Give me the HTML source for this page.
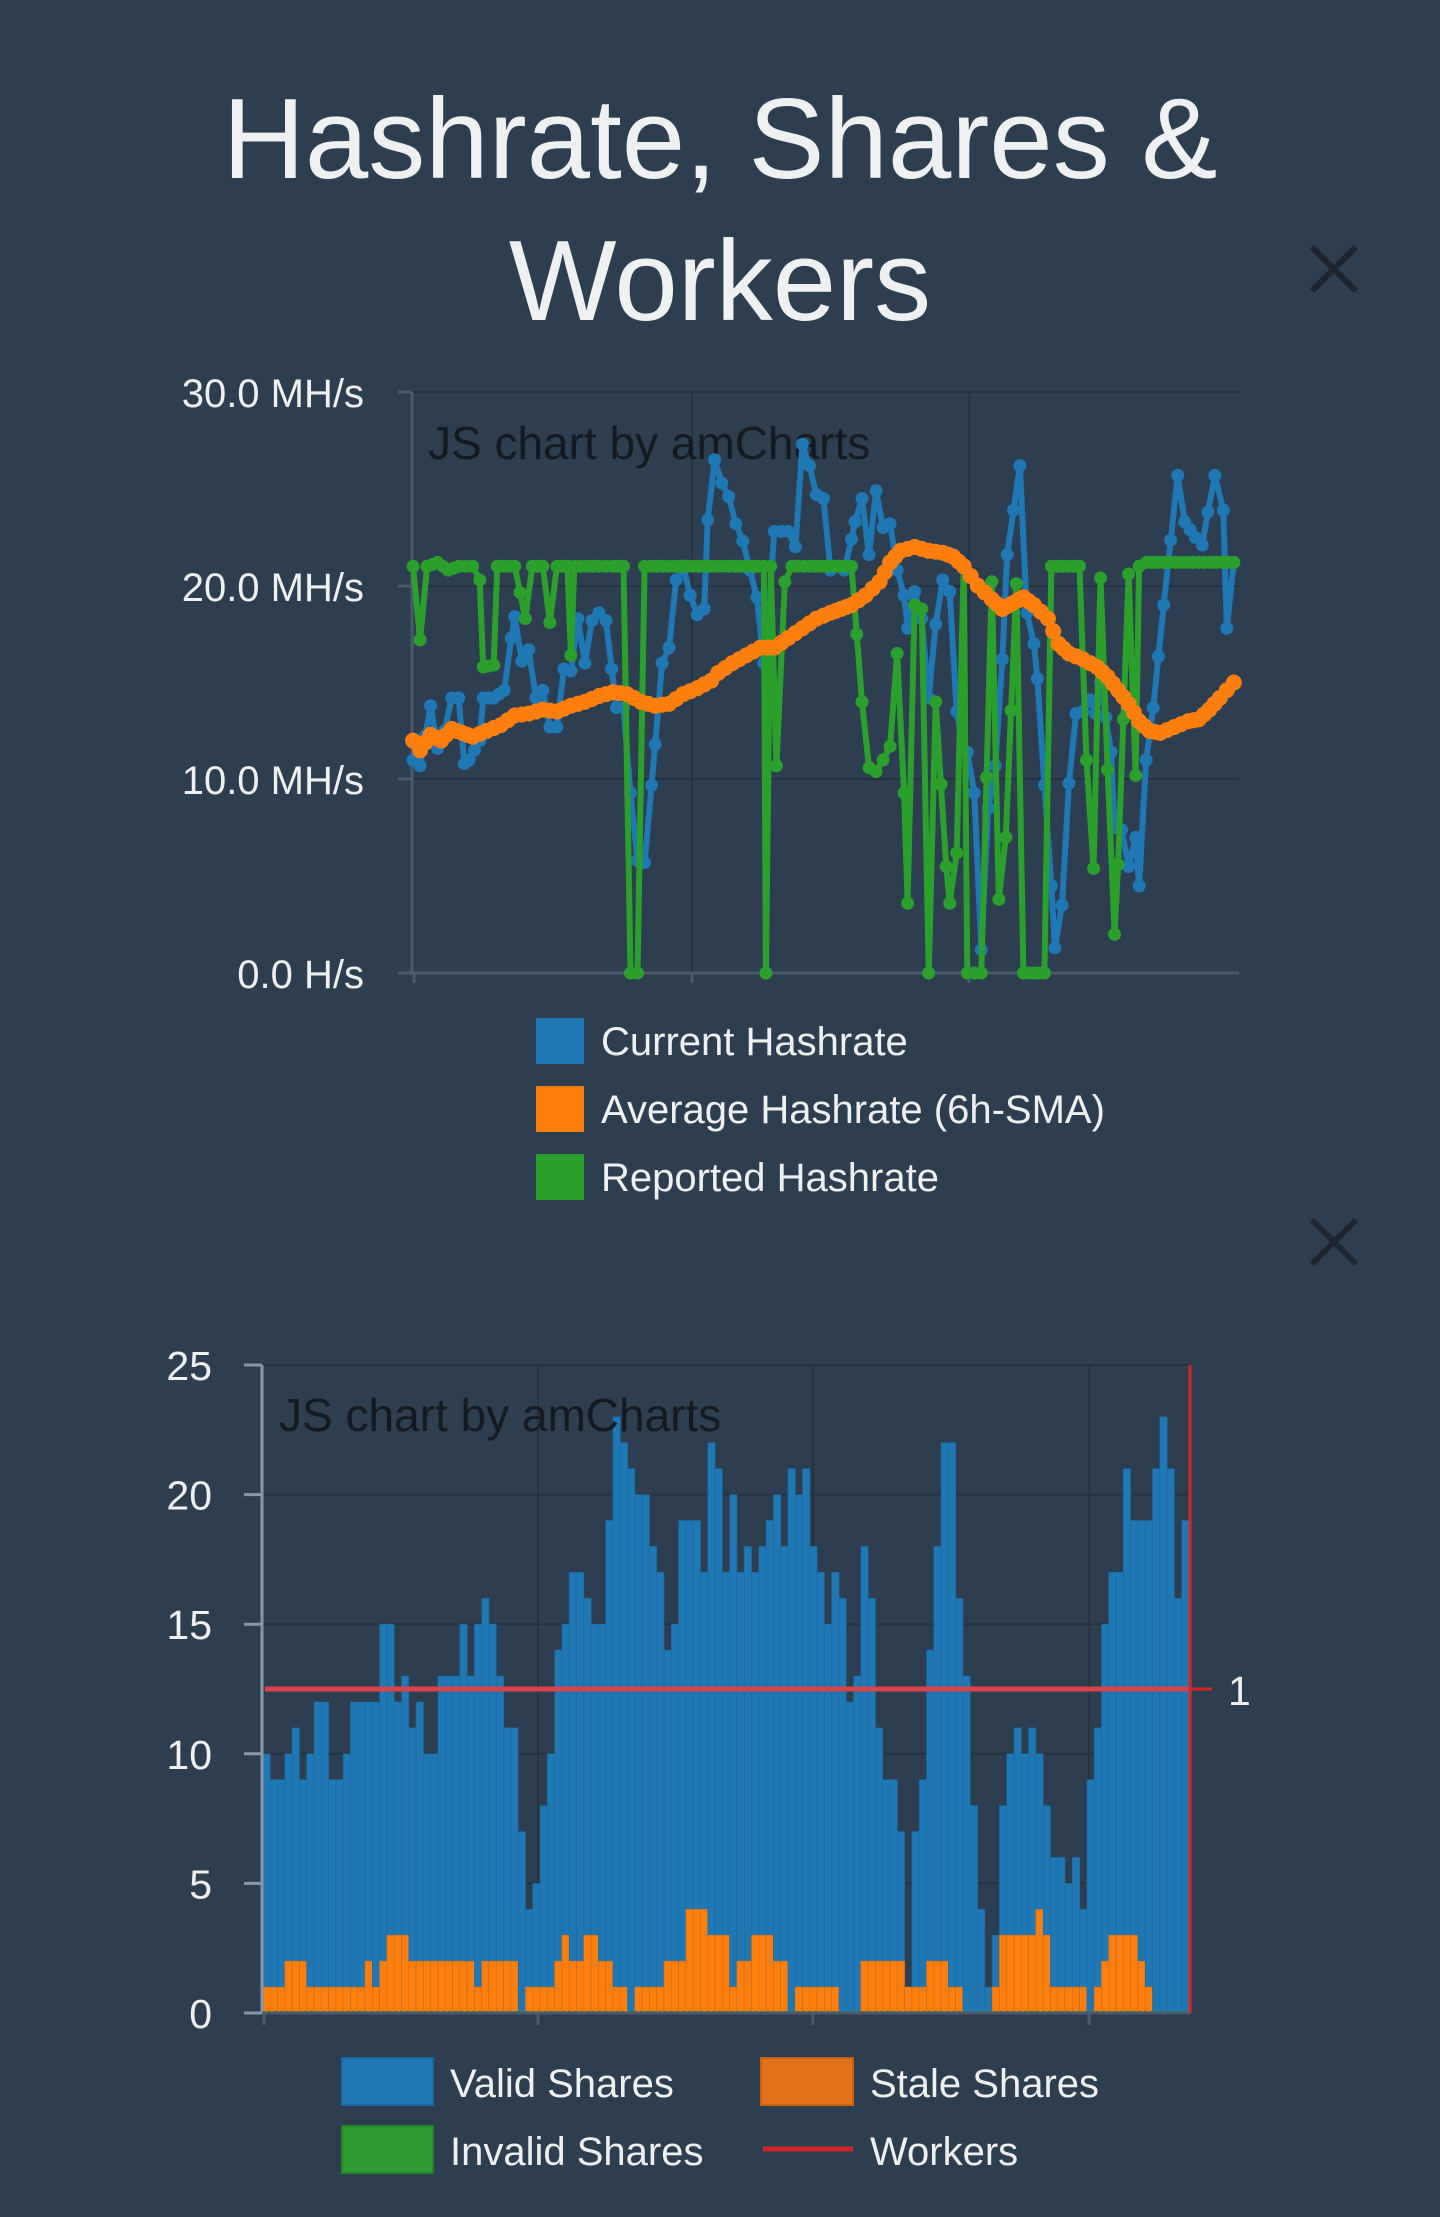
<!DOCTYPE html>
<html><head><meta charset="utf-8"><style>
html,body{margin:0;padding:0;background:#2d3e50;}
body{width:1440px;height:2217px;position:relative;overflow:hidden;font-family:"Liberation Sans",sans-serif;}
.title{position:absolute;left:0;width:1440px;text-align:center;color:#eef0f2;font-size:114px;line-height:142px;top:69px;}
svg{position:absolute;left:0;top:0;}
</style></head><body>
<div class="title">Hashrate, Shares &amp;<br>Workers</div>
<svg id="s" width="1440" height="2217" xmlns="http://www.w3.org/2000/svg"></svg>
<script>
var NS="http://www.w3.org/2000/svg",S=document.getElementById('s');
function el(t,a,txt){var e=document.createElementNS(NS,t);for(var k in a)e.setAttribute(k,a[k]);if(txt!=null)e.textContent=txt;S.appendChild(e);return e;}
[[1334,269],[1334,1242]].forEach(function(p){var d=22;el('path',{d:'M'+(p[0]-d)+' '+(p[1]-d)+'L'+(p[0]+d)+' '+(p[1]+d)+'M'+(p[0]+d)+' '+(p[1]-d)+'L'+(p[0]-d)+' '+(p[1]+d),stroke:'#1c2530','stroke-width':6});});
var L=412,R=1239,T=392,B=973;
[392,586,779].forEach(function(y){el('line',{x1:L,x2:R,y1:y,y2:y,stroke:'#253341','stroke-width':2});});
[692,969].forEach(function(x){el('line',{x1:x,x2:x,y1:T,y2:B,stroke:'#253341','stroke-width':2});});
el('line',{x1:L,x2:L,y1:T,y2:B,stroke:'#4b5a6a','stroke-width':3});
el('line',{x1:L-14,x2:R,y1:B,y2:B,stroke:'#4b5a6a','stroke-width':3});
[414,692,969].forEach(function(x){el('line',{x1:x,x2:x,y1:B,y2:B+10,stroke:'#4b5a6a','stroke-width':3});});
[[392,'30.0 MH/s'],[586,'20.0 MH/s'],[779,'10.0 MH/s'],[973,'0.0 H/s']].forEach(function(a){
 el('line',{x1:L-14,x2:L,y1:a[0],y2:a[0],stroke:'#4b5a6a','stroke-width':3});
 el('text',{x:364,y:a[0]+15,'text-anchor':'end',fill:'#eef0f2','font-size':40},a[1]);});
el('text',{x:428,y:459,fill:'#141a22','font-size':46},'JS chart by amCharts');
function mp(p){return [150+p[0]/1.4255, B-p[1]*(B-T)/30];}
function series(pts,col,r,sw){var q=pts.map(mp);el('polyline',{points:q.map(function(a){return a[0].toFixed(1)+','+a[1].toFixed(1)}).join(' '),fill:'none',stroke:col,'stroke-width':sw,'stroke-linejoin':'round'});
 for(var i=0;i<q.length-1;i++){var n=Math.max(1,Math.round(Math.abs(q[i+1][0]-q[i][0])/6));for(var j=0;j<n;j++){var x=q[i][0]+(q[i+1][0]-q[i][0])*j/n,y=q[i][1]+(q[i+1][1]-q[i][1])*j/n;el('circle',{cx:x,cy:y,r:r,fill:col});}}
 var z=q[q.length-1];el('circle',{cx:z[0],cy:z[1],r:r,fill:col});}
var blue=[[375,11],[385,10.7],[400,13.8],[410,11.6],[420,12.5],[430,14.2],[440,14.2],[448,10.8],[455,11],[470,12],[475,14.2],[490,14.2],[505,14.6],[515,17.3],[520,18.4],[530,16.1],[540,16.7],[550,14.2],[560,14.6],[570,12.7],[580,12.7],[590,15.7],[600,15.6],[610,18.3],[620,16],[630,18.2],[640,18.6],[650,18.2],[658,15.7],[665,13.7],[675,13.7],[685,9.3],[695,5.8],[705,5.7],[715,9.7],[720,11.8],[730,16],[740,16.8],[750,20.3],[760,21],[770,19.5],[780,18.5],[790,18.8],[795,23.4],[805,26.5],[815,25.3],[825,24.6],[835,23.2],[845,22.3],[855,20.8],[865,19.4],[875,16],[880,17.5],[890,22.8],[900,22.8],[910,22.8],[920,22],[930,27.3],[940,26.2],[950,24.7],[960,24.5],[970,20.8],[980,21],[990,20.8],[1000,22.4],[1005,23.3],[1015,24.5],[1025,21.6],[1035,24.9],[1045,23],[1055,23.2],[1065,20.8],[1075,19.5],[1080,17.8],[1090,19.7],[1100,18.3],[1110,14.2],[1120,18],[1130,20.3],[1140,19.7],[1150,13.5],[1160,11.5],[1165,11.4],[1175,9.3],[1185,1.2],[1195,8.5],[1205,10.7],[1215,16.2],[1222,21.6],[1240,26.2],[1250,18.6],[1260,17],[1265,15.2],[1275,9.7],[1285,4.5],[1290,1.3],[1300,3.5],[1310,9.8],[1320,13.4],[1330,13.5],[1340,14.1],[1348,13.4],[1355,15],[1370,11.4],[1375,7.5],[1385,7.4],[1395,5.5],[1405,7],[1410,4.5],[1420,11],[1430,13.7],[1445,19],[1465,25.7],[1475,23.3],[1490,22.5],[1500,22.1],[1508,23.8],[1518,25.7],[1530,23.9],[1535,17.8],[1545,21.2]];
var green=[[375,21],[385,17.2],[395,21],[410,21.2],[425,20.8],[440,21],[460,21],[470,20.3],[475,15.8],[490,15.9],[495,21],[520,21],[535,18.3],[545,21],[560,21],[570,18.1],[580,21],[595,21],[600,16.4],[605,21],[640,21],[660,21],[675,21],[685,0],[695,0],[705,21],[860,21],[875,21],[878,0],[885,21],[893,10.7],[905,20.2],[915,21],[1000,21],[1015,14],[1025,10.6],[1035,10.4],[1045,11],[1055,11.7],[1065,16.5],[1075,9.3],[1080,3.6],[1090,19],[1100,18.8],[1110,0],[1120,14],[1135,5.5],[1140,3.6],[1150,6.2],[1160,21],[1165,0],[1175,0],[1185,0],[1200,20.2],[1210,3.8],[1220,7],[1235,20.1],[1245,0],[1275,0],[1285,21],[1325,21],[1335,11],[1345,5.4],[1355,20.4],[1365,10.5],[1375,2],[1380,5.6],[1395,20.6],[1405,10.2],[1410,21],[1420,21.2],[1545,21.2]];
var orange=[[375,12],[385,11.5],[400,12.3],[415,12],[430,12.6],[445,12.4],[460,12.2],[480,12.5],[500,12.8],[520,13.3],[540,13.4],[560,13.6],[580,13.5],[600,13.8],[620,14],[640,14.3],[660,14.5],[680,14.4],[700,14],[720,13.8],[740,13.9],[760,14.4],[780,14.7],[800,15.1],[810,15.5],[830,16],[850,16.4],[870,16.8],[890,16.8],[910,17.3],[930,17.8],[950,18.3],[970,18.6],[1000,19],[1020,19.5],[1040,20.2],[1055,21.2],[1070,21.8],[1090,22],[1110,21.8],[1130,21.7],[1145,21.5],[1160,21],[1180,20],[1200,19.3],[1215,18.8],[1230,19.1],[1245,19.4],[1260,19],[1280,18.3],[1295,17],[1310,16.5],[1330,16.2],[1350,15.8],[1365,15.3],[1380,14.6],[1395,13.9],[1410,13],[1425,12.5],[1440,12.4],[1460,12.7],[1480,13],[1495,13.1],[1510,13.6],[1525,14.2],[1545,15]];
series(blue,'#1f77b4',6.5,6);series(green,'#2ca02c',6.5,6);series(orange,'#ff7f0e',8,7);
[['#1f77b4','Current Hashrate',1018],['#ff7f0e','Average Hashrate (6h-SMA)',1086],['#2ca02c','Reported Hashrate',1154]].forEach(function(a){
 el('rect',{x:536,y:a[2],width:48,height:46,fill:a[0]});el('text',{x:601,y:a[2]+37,fill:'#eef0f2','font-size':40},a[1]);});
var L2=262,R2=1190,T2=1365,B2=2013,u=(B2-T2)/25;
[0,5,10,15,20,25].forEach(function(v){var y=B2-v*u;if(v>0)el('line',{x1:L2,x2:R2,y1:y,y2:y,stroke:'#253341','stroke-width':2});
 el('line',{x1:L2-18,x2:L2,y1:y,y2:y,stroke:'#8a97a4','stroke-width':3});
 el('text',{x:212,y:y+15,'text-anchor':'end',fill:'#eef0f2','font-size':41},String(v));});
[538,813,1089].forEach(function(x){el('line',{x1:x,x2:x,y1:T2,y2:B2,stroke:'#253341','stroke-width':2});});
var bv=[10,9,9,10,11,9,10,12,12,9,9,10,12,12,12,12,15,15,12,13,11,12,10,10,13,13,13,15,13,15,16,15,13,11,11,7,4,5,8,10,14,15,17,17,16,15,15,19,23,22,21,20,20,18,17,14,15,19,19,19,17,22,21,17,20,17,18,17,18,19,20,18,21,20,21,18,17,15,17,16,12,13,18,16,11,9,9,7,1,7,9,14,18,22,22,16,13,8,4,1,3,8,10,11,10,11,10,8,6,6,5,6,4,9,11,15,17,17,21,19,19,19,21,23,21,16,19];
var ov=[1,1,1,2,2,2,1,1,1,1,1,1,1,1,2,1,2,3,3,3,2,2,2,2,2,2,2,2,2,1,2,2,2,2,2,0,1,1,1,1,2,3,2,2,3,3,2,2,1,1,0,1,1,1,1,2,2,2,4,4,4,3,3,3,1,2,2,3,3,3,2,2,0,1,1,1,1,1,1,0,0,0,2,2,2,2,2,2,1,1,1,2,2,2,1,1,0,0,0,0,1,3,3,3,3,3,4,3,1,1,1,1,1,0,1,2,3,3,3,3,2,1,0,0,0,0,0];
var n=bv.length,w=(R2-2-L2)/n;
for(var i=0;i<n;i++){var x=L2+1+i*w;el('rect',{x:x,y:B2-bv[i]*u,width:w,height:bv[i]*u,fill:'#1f77b4',stroke:'#1b6aa0','stroke-width':0.6});
 if(ov[i]>0)el('rect',{x:x,y:B2-ov[i]*u,width:w,height:ov[i]*u,fill:'#ff7f0e',stroke:'#e06d08','stroke-width':0.6});}
el('line',{x1:L2,x2:R2,y1:B2-1,y2:B2-1,stroke:'#2ca02c','stroke-width':2,'stroke-dasharray':'3,3'});
el('line',{x1:L2,x2:L2,y1:T2,y2:B2,stroke:'#8a97a4','stroke-width':3});
el('line',{x1:L2,x2:R2,y1:B2,y2:B2,stroke:'#4b5a6a','stroke-width':3});
[264,538,813,1089].forEach(function(x){el('line',{x1:x,x2:x,y1:B2,y2:B2+12,stroke:'#4b5a6a','stroke-width':3});});
el('line',{x1:R2,x2:R2,y1:T2,y2:B2,stroke:'#d62728','stroke-width':3});
el('line',{x1:L2+3,x2:R2-2,y1:1689,y2:1689,stroke:'#d9434a','stroke-width':5});
el('line',{x1:R2,x2:R2+22,y1:1689,y2:1689,stroke:'#d62728','stroke-width':3});
el('text',{x:1228,y:1705,fill:'#eef0f2','font-size':41},'1');
el('text',{x:279,y:1431,fill:'#141a22','font-size':46},'JS chart by amCharts');
el('rect',{x:342,y:2058,width:91,height:47,fill:'#1f77b4',stroke:'#1b6aa0','stroke-width':2});
el('text',{x:450,y:2097,fill:'#eef0f2','font-size':40},'Valid Shares');
el('rect',{x:761,y:2058,width:92,height:47,fill:'#e0711a',stroke:'#c8600e','stroke-width':2});
el('text',{x:870,y:2097,fill:'#eef0f2','font-size':40},'Stale Shares');
el('rect',{x:342,y:2126,width:91,height:47,fill:'#2e9a32',stroke:'#26852a','stroke-width':2});
el('text',{x:450,y:2165,fill:'#eef0f2','font-size':40},'Invalid Shares');
el('line',{x1:763,x2:853,y1:2149,y2:2149,stroke:'#d62728','stroke-width':5});
el('text',{x:870,y:2165,fill:'#eef0f2','font-size':40},'Workers');
</script>
</body></html>
